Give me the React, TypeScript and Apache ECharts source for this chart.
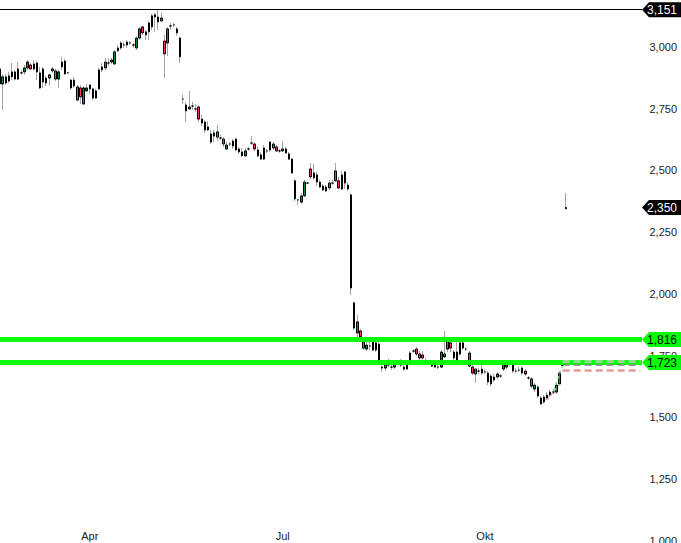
import React, { useEffect, useRef } from 'react';
import * as echarts from 'echarts';

const opens = [
  2911, 2850, 2879, 2862, 2879, 2899, 2870, 2895, 2899, 2915, 2927, 2911, 2935, 2834, 2911, 2854, 2887, 2911, 2903, 2870,
  2919, 2943, 2895, 2866, 2842, 2838, 2834, 2769, 2822, 2846, 2830, 2793, 2830, 2907, 2915, 2935, 2939, 2931, 2984, 2996,
  3008, 3008, 3016, 3008, 2996, 3036, 3081, 3049, 3061, 3081, 3130, 3121, 3105, 3024, 3016, 3085, 3089, 3073, 3036, 2789,
  2741, 2749, 2761, 2749, 2757, 2708, 2696, 2676, 2648, 2639, 2656, 2631, 2627, 2587, 2607, 2599, 2627, 2575, 2575, 2559,
  2587, 2611, 2607, 2583, 2563, 2546, 2579, 2583, 2607, 2595, 2579, 2579, 2587, 2567, 2546, 2458, 2381, 2372, 2397, 2449,
  2506, 2470, 2482, 2453, 2421, 2433, 2429, 2449, 2498, 2458, 2425, 2494, 2441, 2401, 1964, 1842, 1850, 1818, 1777, 1789,
  1806, 1773, 1797, 1700, 1700, 1712, 1704, 1704, 1720, 1724, 1704, 1696, 1716, 1769, 1777, 1757, 1753, 1729, 1724, 1724,
  1704, 1704, 1704, 1745, 1810, 1802, 1765, 1729, 1802, 1802, 1777, 1761, 1704, 1696, 1688, 1680, 1684, 1680, 1636, 1652,
  1664, 1668, 1696, 1704, 1716, 1716, 1688, 1692, 1680, 1688, 1660, 1656, 1615, 1623, 1555, 1563, 1579, 1591, 1603, 1603,
  1636, 1710, 2345,
];
const closes = [
  2850, 2879, 2854, 2883, 2899, 2870, 2911, 2895, 2915, 2939, 2911, 2931, 2899, 2895, 2858, 2874, 2874, 2903, 2870, 2899,
  2939, 2891, 2895, 2834, 2866, 2785, 2798, 2834, 2834, 2830, 2793, 2822, 2907, 2919, 2939, 2935, 2947, 2980, 2996, 3016,
  3008, 3020, 3016, 3008, 3036, 3073, 3057, 3061, 3097, 3126, 3121, 3101, 3117, 2972, 3073, 3085, 3089, 3057, 2960, 2789,
  2765, 2757, 2761, 2749, 2708, 2692, 2664, 2664, 2615, 2652, 2635, 2631, 2607, 2603, 2607, 2619, 2583, 2587, 2559, 2579,
  2587, 2611, 2587, 2559, 2546, 2591, 2579, 2615, 2591, 2579, 2579, 2587, 2571, 2546, 2490, 2385, 2381, 2397, 2453, 2449,
  2474, 2490, 2453, 2433, 2437, 2417, 2449, 2449, 2458, 2429, 2482, 2449, 2425, 2024, 1862, 1887, 1826, 1781, 1793, 1789,
  1773, 1802, 1724, 1704, 1716, 1729, 1704, 1716, 1720, 1712, 1696, 1716, 1761, 1769, 1757, 1741, 1741, 1729, 1724, 1708,
  1720, 1704, 1765, 1757, 1777, 1781, 1741, 1765, 1757, 1781, 1777, 1708, 1680, 1676, 1688, 1696, 1684, 1644, 1668, 1664,
  1676, 1668, 1716, 1720, 1716, 1688, 1688, 1692, 1700, 1676, 1660, 1627, 1631, 1587, 1579, 1583, 1591, 1603, 1603, 1631,
  1680, 1712, 2350,
];
const lows = [
  2842, 2745, 2846, 2854, 2866, 2866, 2866, 2887, 2887, 2907, 2907, 2903, 2866, 2830, 2834, 2842, 2842, 2895, 2862, 2834,
  2907, 2887, 2891, 2826, 2834, 2781, 2769, 2765, 2818, 2810, 2785, 2789, 2826, 2899, 2907, 2923, 2931, 2927, 2980, 2988,
  2996, 2996, 3008, 2996, 2988, 3028, 3049, 3028, 3028, 3069, 3061, 3069, 3101, 2874, 2964, 3069, 3081, 3045, 2935, 2769,
  2696, 2745, 2745, 2737, 2696, 2680, 2652, 2660, 2607, 2615, 2619, 2623, 2595, 2583, 2599, 2587, 2579, 2567, 2555, 2555,
  2579, 2603, 2579, 2555, 2542, 2542, 2571, 2575, 2583, 2575, 2571, 2575, 2567, 2542, 2486, 2376, 2360, 2364, 2393, 2445,
  2462, 2462, 2437, 2429, 2417, 2413, 2421, 2441, 2453, 2425, 2421, 2425, 2417, 1996, 1854, 1822, 1814, 1773, 1769, 1773,
  1769, 1765, 1720, 1684, 1688, 1704, 1692, 1696, 1712, 1704, 1688, 1692, 1712, 1761, 1749, 1733, 1733, 1720, 1716, 1704,
  1700, 1696, 1700, 1741, 1765, 1765, 1733, 1724, 1749, 1773, 1769, 1704, 1672, 1640, 1676, 1672, 1676, 1631, 1627, 1644,
  1656, 1660, 1688, 1696, 1708, 1680, 1680, 1684, 1672, 1668, 1652, 1619, 1603, 1579, 1550, 1555, 1571, 1583, 1595, 1595,
  1631, 1700, 2344,
];
const highs = [
  2923, 2890, 2891, 2899, 2935, 2907, 2939, 2907, 2927, 2947, 2935, 2947, 2943, 2919, 2919, 2883, 2891, 2919, 2911, 2907,
  2960, 2951, 2899, 2870, 2879, 2846, 2846, 2842, 2850, 2850, 2834, 2830, 2915, 2935, 2955, 2955, 2955, 2988, 3008, 3024,
  3020, 3028, 3024, 3016, 3045, 3081, 3085, 3069, 3105, 3134, 3138, 3151, 3138, 3049, 3081, 3097, 3097, 3081, 3041, 2806,
  2777, 2822, 2777, 2769, 2765, 2725, 2704, 2700, 2664, 2664, 2684, 2644, 2635, 2615, 2615, 2627, 2631, 2595, 2591, 2591,
  2595, 2639, 2615, 2599, 2575, 2603, 2587, 2619, 2615, 2603, 2587, 2619, 2595, 2575, 2550, 2466, 2385, 2409, 2462, 2453,
  2530, 2526, 2494, 2462, 2445, 2441, 2462, 2462, 2530, 2474, 2498, 2498, 2453, 2409, 1968, 1915, 1858, 1826, 1810, 1806,
  1810, 1810, 1806, 1716, 1729, 1737, 1716, 1724, 1733, 1737, 1716, 1724, 1769, 1777, 1785, 1769, 1769, 1741, 1733, 1733,
  1729, 1712, 1773, 1850, 1822, 1810, 1773, 1806, 1810, 1810, 1785, 1769, 1712, 1700, 1700, 1724, 1696, 1688, 1676, 1676,
  1684, 1676, 1724, 1729, 1724, 1724, 1700, 1704, 1708, 1696, 1668, 1664, 1640, 1631, 1587, 1591, 1603, 1611, 1611, 1640,
  1688, 1720, 2409,
];

const slotCount = 207;
const categories = Array.from({ length: slotCount }, (_, i) => String(i));
const monthLabels = ['Apr', 'Jul', 'Okt'];
const monthIndex = [29, 91, 156];

const yMin = 1000;
const yMax = 3190;
const yStep = 250;

const periodHigh = 3151;
const supportLevels = [1816, 1723];
const tagValues = [3151, 2350, 1816, 1723];
const tagFills = ['#000000', '#000000', '#00ff00', '#00ff00'];
const tagTextColors = ['#ffffff', '#ffffff', '#000000', '#000000'];

const projectionStart = 181;
const projectionLevels = [1727, 1712, 1690];
const projectionColors = ['#8fdc8f', '#7a8a7a', '#e59a9a'];
const projectionWidths = [3, 1.5, 2.5];
const trendRed = [[176, 1571], [180, 1635]];
const trendGreen = [[178, 1610], [181, 1708]];

const UP = '#128c34';
const DOWN = '#f23b5c';
const WICK = '#a3a3a3';
const FONT = '"Liberation Sans", Arial, sans-serif';

const fmt = (v: number) => v.toLocaleString('en-US');

export default function App() {
  const ref = useRef<HTMLDivElement>(null);

  useEffect(() => {
    document.body.style.margin = '0';
    if (!ref.current) return;
    const chart = echarts.init(ref.current, undefined, { renderer: 'svg' });

    const wickData = opens.map((o, i) => [o, closes[i], lows[i], highs[i]]);
    const bodyData = opens.map((o, i) => [o, closes[i], Math.min(o, closes[i]), Math.max(o, closes[i])]);

    const lastSlot = categories[slotCount - 1];

    const markLineData: any[] = [
      { yAxis: periodHigh, lineStyle: { color: '#000', width: 1, type: 'solid' } },
      ...supportLevels.map((v) => ({ yAxis: v, lineStyle: { color: '#00ff00', width: 5, type: 'solid', opacity: 0.95 } })),
      ...projectionLevels.map((v, k) => [
        { coord: [categories[projectionStart], v], lineStyle: { color: projectionColors[k], width: projectionWidths[k], type: [7, 4] } },
        { coord: [lastSlot, v] },
      ]),
      [
        { coord: [categories[trendRed[0][0]], trendRed[0][1]], lineStyle: { color: '#e59a9a', width: 1.5, type: [3, 3] } },
        { coord: [categories[trendRed[1][0]], trendRed[1][1]] },
      ],
      [
        { coord: [categories[trendGreen[0][0]], trendGreen[0][1]], lineStyle: { color: '#8fdc8f', width: 1.5, type: [3, 3] } },
        { coord: [categories[trendGreen[1][0]], trendGreen[1][1]] },
      ],
    ];

    chart.setOption({
      animation: false,
      backgroundColor: '#ffffff',
      grid: { left: -2, right: 39, top: 0, bottom: 2, containLabel: false, outerBoundsMode: 'none' },
      xAxis: {
        type: 'category',
        data: categories,
        boundaryGap: true,
        axisLine: { show: false },
        axisTick: { show: false },
        splitLine: { show: false },
        axisLabel: {
          inside: true,
          margin: 0,
          color: '#222',
          fontSize: 11,
          fontFamily: FONT,
          interval: (idx: number) => monthIndex.includes(idx),
          formatter: (_v: string, idx: number) => {
            const k = monthIndex.indexOf(idx);
            return k >= 0 ? monthLabels[k] : '';
          },
        },
      },
      yAxis: {
        type: 'value',
        position: 'right',
        min: yMin,
        max: yMax,
        interval: yStep,
        axisLine: { show: false },
        axisTick: { show: false },
        splitLine: { show: false },
        axisLabel: {
          align: 'right',
          margin: 35,
          color: '#222',
          fontSize: 11,
          fontFamily: FONT,
          formatter: (v: number) => (v % yStep === 0 ? fmt(v) : ''),
        },
      },
      series: [
        {
          name: 'wick',
          type: 'candlestick',
          data: wickData,
          barWidth: 1,
          silent: true,
          itemStyle: { color: WICK, color0: WICK, borderColor: WICK, borderColor0: WICK, borderColorDoji: WICK, borderWidth: 1 },
        },
        {
          name: 'body',
          type: 'candlestick',
          data: bodyData,
          barWidth: 2,
          silent: true,
          itemStyle: { color: UP, color0: DOWN, borderColor: '#000', borderColor0: '#000', borderColorDoji: '#000', borderWidth: 1 },
          markLine: {
            silent: true,
            symbol: ['none', 'none'],
            label: { show: false },
            animation: false,
            data: markLineData,
          },
        },
        {
          name: 'tags',
          type: 'custom',
          coordinateSystem: 'cartesian2d',
          clip: false,
          z: 10,
          data: tagValues.map((v) => [slotCount - 1, v]),
          encode: { x: 0, y: 1 },
          renderItem: (params: any, api: any) => {
            const idx = params.dataIndex;
            const value = api.value(1);
            const y = api.coord([0, value])[1];
            const cs = params.coordSys;
            const x0 = cs.x + cs.width;
            const w = api.getWidth();
            const h = 7.5;
            return {
              type: 'group',
              children: [
                {
                  type: 'polygon',
                  shape: { points: [[x0, y], [x0 + 7, y - h], [w, y - h], [w, y + h], [x0 + 7, y + h]] },
                  style: { fill: tagFills[idx] },
                },
                {
                  type: 'text',
                  style: {
                    text: fmt(value),
                    x: w - 4,
                    y: y + 0.5,
                    align: 'right',
                    verticalAlign: 'middle',
                    fill: tagTextColors[idx],
                    font: '12px ' + FONT,
                  },
                },
              ],
            };
          },
        },
      ],
    });

    return () => chart.dispose();
  }, []);

  return <div ref={ref} style={{ position: 'fixed', left: 0, top: 0, width: 681, height: 543 }} />;
}
